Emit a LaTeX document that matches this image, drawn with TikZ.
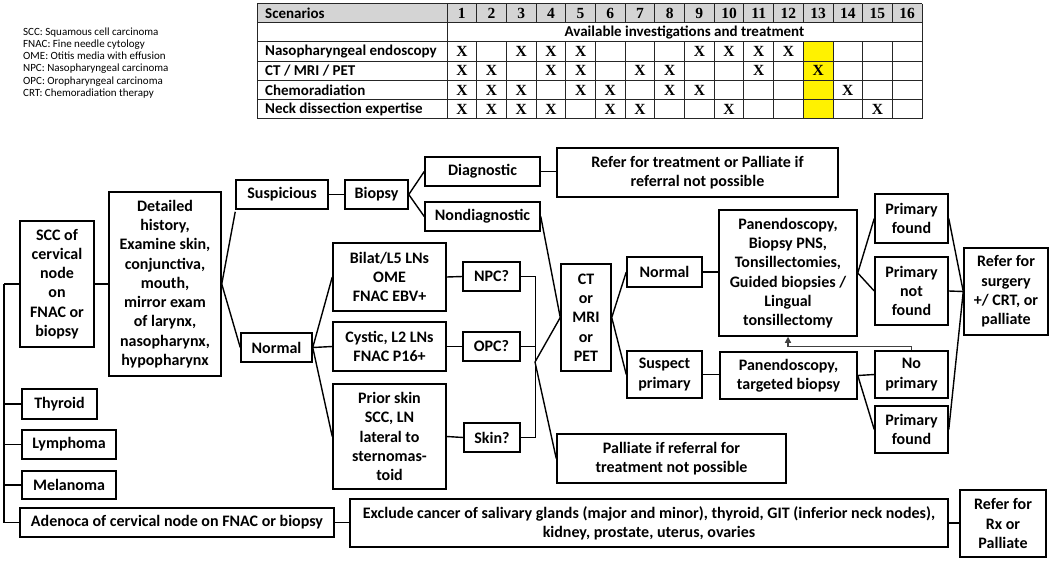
\documentclass[tikz,border=0pt]{standalone}
\usepackage{fontspec}
\setmainfont{Carlito}
\newfontfamily\serifx{Liberation Serif}
\usetikzlibrary{arrows.meta}
\newcommand\mybox[6]{\node[box, minimum width={(#4)-(#2)}, minimum height={(#5)-(#3)}] (#1) at ({((#2)+(#4))/2},{((#3)+(#5))/2}) {#6};}
\begin{document}
\begin{tikzpicture}[x=1pt,y=-1pt,
  box/.style={draw, line width=1.5pt, align=center, inner sep=1pt, font=\bfseries\fontsize{16}{19.3}\selectfont},
  conn/.style={line width=1.4pt},
  tlabel/.style={anchor=west, inner sep=0pt, font=\bfseries\fontsize{15}{17}\selectfont},
  tnum/.style={inner sep=0pt, font=\serifx\bfseries\fontsize{15.5}{17}\selectfont},
  grid/.style={line width=0.9pt, draw=black!85}
]
\useasboundingbox (0,0) rectangle (1051,560);

% ---------- legend ----------
\node[anchor=north west, align=left, inner sep=0pt, font=\fontsize{11}{12.2}\selectfont] (legend) at (23,27.5)
 {SCC: Squamous cell carcinoma\\FNAC: Fine needle cytology\\OME: Otitis media with effusion\\NPC: Nasopharyngeal carcinoma\\OPC: Oropharyngeal carcinoma\\CRT: Chemoradiation therapy};

% ---------- table ----------
\def\cw{29.6875}
\fill[black!17] (257,3.5) rectangle (922,22.6);
\fill[yellow] ({447+12*\cw},41.6) rectangle ({447+13*\cw},118.5);
\foreach \yy in {3.5,22.6,41.6,61,80.3,99.5,118.5} \draw[grid] (257,\yy) -- (922,\yy);
\draw[grid] (257,3.5) -- (257,118.5);
\draw[grid] (447,3.5) -- (447,118.5);
\draw[grid] (922,3.5) -- (922,118.5);
\foreach \i in {1,...,15} {
  \draw[grid] ({447+\i*\cw},3.5) -- ({447+\i*\cw},22.6);
  \draw[grid] ({447+\i*\cw},41.6) -- ({447+\i*\cw},118.5);
}
\node[tlabel] (tscen) at (265,13) {Scenarios};
\foreach \i in {1,...,16} \node[tnum] (tn\i) at ({447+(\i-0.5)*\cw},13.2) {\i};
\node[inner sep=0pt, font=\bfseries\fontsize{15}{17}\selectfont] (tavail) at (684.5,32) {Available investigations and treatment};
\node[tlabel] (tr1) at (265,51.3) {Nasopharyngeal endoscopy};
\node[tlabel] (tr2) at (265,70.6) {CT / MRI / PET};
\node[tlabel] (tr3) at (265,89.9) {Chemoradiation};
\node[tlabel] (tr4) at (265,109) {Neck dissection expertise};
\foreach \c in {1,3,4,5,9,10,11,12} \node[tnum] (xa\c) at ({447+(\c-0.5)*\cw},51.5) {X};
\foreach \c in {1,2,4,5,7,8,11,13} \node[tnum] (xb\c) at ({447+(\c-0.5)*\cw},70.8) {X};
\foreach \c in {1,2,3,5,6,8,9,14} \node[tnum] (xc\c) at ({447+(\c-0.5)*\cw},90.1) {X};
\foreach \c in {1,2,3,4,6,7,10,15} \node[tnum] (xd\c) at ({447+(\c-0.5)*\cw},109.2) {X};

% ---------- flowchart boxes ----------
\mybox{scc}{20}{221}{94}{347}{SCC of\\cervical\\node\\on\\FNAC or\\biopsy}
\mybox{det}{109}{192}{221}{376}{Detailed\\history,\\Examine skin,\\conjunctiva,\\mouth,\\mirror exam\\of larynx,\\nasopharynx,\\hypopharynx}
\mybox{thy}{22}{389}{97}{419}{Thyroid}
\mybox{lym}{22}{430}{116}{459}{Lymphoma}
\mybox{mel}{22}{471}{116}{499}{Melanoma}
\mybox{aden}{20}{508}{334}{537}{Adenoca of cervical node on FNAC or biopsy}
\mybox{excl}{350}{499}{948}{547}{Exclude cancer of salivary glands (major and minor), thyroid, GIT (inferior neck nodes),\\kidney, prostate, uterus, ovaries}
\mybox{rrx}{960}{490}{1046}{557}{Refer for\\Rx or\\Palliate}
\mybox{susp}{236}{180}{328}{209}{Suspicious}
\mybox{biop}{345}{180}{408}{209}{Biopsy}
\mybox{diag}{425}{157}{540}{186}{Diagnostic}
\mybox{nond}{425}{202}{540}{231}{Nondiagnostic}
\mybox{refr}{557}{148}{838}{197}{Refer for treatment or Palliate if\\referral not possible}
\mybox{norm}{241}{333}{312}{362}{Normal}
\mybox{bilat}{333}{243}{446}{311}{Bilat/L5 LNs\\OME\\FNAC EBV+}
\mybox{cyst}{333}{322}{446}{371}{Cystic, L2 LNs\\FNAC P16+}
\mybox{prior}{333}{384}{446}{489}{Prior skin\\SCC, LN\\lateral to\\sternomas-\\toid}
\mybox{npc}{463}{262}{520}{291}{NPC?}
\mybox{opc}{463}{332}{520}{361}{OPC?}
\mybox{skin}{464}{423}{520}{452}{Skin?}
\mybox{ct}{561}{264}{611}{371}{CT\\or\\MRI\\or\\PET}
\mybox{pall}{557}{434}{786}{483}{Palliate if referral for\\treatment not possible}
\mybox{nrm2}{627}{257}{702}{287}{Normal}
\mybox{susp2}{627}{351}{702}{398}{Suspect\\primary}
\mybox{pan}{719}{210}{857}{336}{Panendoscopy,\\Biopsy PNS,\\Tonsillectomies,\\Guided biopsies /\\Lingual\\tonsillectomy}
\mybox{tgt}{720}{352}{857}{399}{Panendoscopy,\\targeted biopsy}
\mybox{pf1}{875}{194}{948}{243}{Primary\\found}
\mybox{pnf}{875}{257}{948}{325}{Primary\\not\\found}
\mybox{nop}{875}{351}{948}{398}{No\\primary}
\mybox{pf2}{875}{406}{948}{453}{Primary\\found}
\mybox{rsurg}{964}{248}{1048}{335}{Refer for\\surgery\\+/ CRT, or\\palliate}

% ---------- connectors ----------
\coordinate (lbt) at (4,284);
\coordinate (lbb) at (aden.west -| lbt);
\draw[conn] (lbt) -- (lbb);
\draw[conn] (scc.west) -- (lbt);
\draw[conn] (thy.west) -- (thy.west -| lbt);
\draw[conn] (lym.west) -- (lym.west -| lbt);
\draw[conn] (mel.west) -- (mel.west -| lbt);
\draw[conn] (aden.west) -- (lbb);
\draw[conn] (aden.east) -- (aden.east -| excl.west);
\draw[conn] (excl.east) -- (excl.east -| rrx.west);
\draw[conn] (scc.east) -- (det.west);
\draw[conn] (det.east) -- ([yshift=-2pt]susp.south west);
\draw[conn] (det.east) -- (norm.west);
\draw[conn] (susp.east) -- (biop.west);
\draw[conn] (biop.east) -- (diag.west);
\draw[conn] (biop.east) -- (nond.west);
\draw[conn] (diag.east) -- (diag.east -| refr.west);
\draw[conn] (norm.east) -- (bilat.west);
\draw[conn] (norm.east) -- (cyst.west);
\draw[conn] (norm.east) -- (prior.west);
\draw[conn] (bilat.east) -- (npc.west);
\draw[conn] (cyst.east) -- (opc.west);
\draw[conn] (prior.east) -- (skin.west);
\draw[conn] (npc.east) -- ++(15,0) coordinate (bt) -- (bt |- skin.east) -- (skin.east);
\draw[conn] (opc.east) -- (opc.east -| bt);
\coordinate (bj) at (535,362);
\draw[conn] (bj) -- (ct.west);
\draw[conn] (bj) -- (pall.west);
\draw[conn] (nond.east) -- (ct.west);
\draw[conn] (ct.east) -- (nrm2.west);
\draw[conn] (ct.east) -- (susp2.west);
\draw[conn] (nrm2.east) -- (nrm2.east -| pan.west);
\draw[conn] (susp2.east) -- (susp2.east -| tgt.west);
\draw[conn] (pan.east) -- (pf1.west);
\draw[conn] (pan.east) -- (pnf.west);
\draw[conn] (pf1.east) -- (rsurg.west);
\draw[conn] (pnf.east) -- (rsurg.west);
\draw[conn] (pf2.east) -- (rsurg.west);
\draw[conn] (tgt.east) -- (nop.west);
\draw[conn] (tgt.east) -- (pf2.west);
\draw[line width=1.2pt, draw=black!75, -{Triangle[length=6pt,width=6pt]}] (nop.north) -- ++(0,-4) -| (pan.south);
\end{tikzpicture}
\end{document}
